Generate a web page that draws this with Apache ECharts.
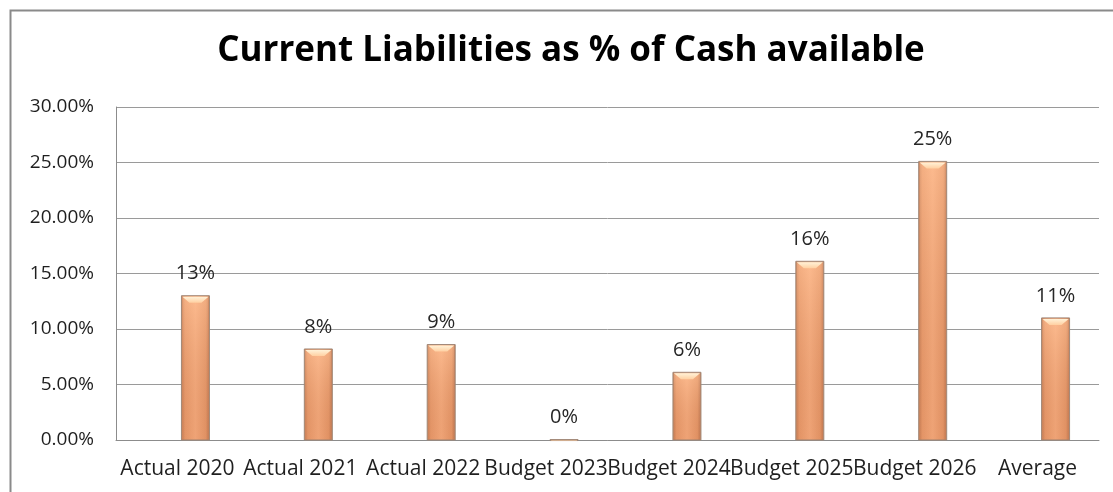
<!DOCTYPE html>
<html>
<head>
<meta charset="utf-8">
<style>
  html, body { margin: 0; padding: 0; background: #ffffff; }
  #chart { width: 1113px; height: 492px; }
</style>
<script src="https://cdn.jsdelivr.net/npm/echarts@6/dist/echarts.min.js"></script>
</head>
<body>
<div id="chart"></div>
<script>
// Current liabilities as a share of cash available, per year
const categories = ['Actual 2020', 'Actual 2021', 'Actual 2022', 'Budget 2023', 'Budget 2024', 'Budget 2025', 'Budget 2026', 'Average'];
const ratios = [0.130, 0.082, 0.086, 0.0004, 0.061, 0.161, 0.251, 0.110];
const yTicks = [0, 0.05, 0.10, 0.15, 0.20, 0.25, 0.30];

const FONT = '"Open Sans", Lato, sans-serif';
const BAR_W = 28;
const BAR_SHIFT = 18; // columns sit a little right of the category centre

function pctLabel(v) { return Math.round(v * 100) + '%'; }
function tickLabel(v) { return (v * 100).toFixed(2) + '%'; }

function renderColumn(params, api) {
  const idx = api.value(0);
  const val = api.value(1);
  const top = api.coord([idx, val]);
  const base = api.coord([idx, 0]);
  const x = top[0] - BAR_W / 2 + BAR_SHIFT;
  const y = top[1];
  const h = Math.max(base[1] - top[1], 1);
  const bev = Math.min(7, h / 3);
  const children = [
    {
      type: 'rect',
      shape: { x: x, y: y, width: BAR_W, height: h },
      style: {
        fill: new echarts.graphic.LinearGradient(0, 0, 1, 0, [
          { offset: 0, color: '#c27b55' },
          { offset: 0.14, color: '#ee9f70' },
          { offset: 0.5, color: '#fbb082' },
          { offset: 0.86, color: '#eb9c6d' },
          { offset: 1, color: '#ba7450' }
        ]),
        stroke: '#a08878',
        lineWidth: 1
      }
    },
    {
      type: 'rect',
      shape: { x: x + 1, y: y + 1, width: BAR_W - 2, height: h - 1 },
      style: {
        fill: new echarts.graphic.LinearGradient(0, 0, 0, 1, [
          { offset: 0, color: 'rgba(255,205,165,0.35)' },
          { offset: 1, color: 'rgba(150,70,30,0.12)' }
        ])
      }
    },
    {
      type: 'polygon',
      shape: { points: [[x + 1, y + 1], [x + BAR_W - 1, y + 1], [x + BAR_W - 1 - bev, y + bev], [x + 1 + bev, y + bev]] },
      style: {
        fill: new echarts.graphic.LinearGradient(0, 0, 0, 1, [
          { offset: 0, color: '#fff2d8' },
          { offset: 1, color: '#ffd0a2' }
        ])
      }
    },
    {
      type: 'text',
      style: {
        text: pctLabel(val),
        x: top[0] + BAR_SHIFT,
        y: y - 12,
        align: 'center',
        verticalAlign: 'bottom',
        fontFamily: FONT,
        fontSize: 20,
        fill: '#262626'
      }
    }
  ];
  return { type: 'group', children: children };
}

const chart = echarts.init(document.getElementById('chart'), null, { renderer: 'canvas' });
chart.setOption({
  animation: false,
  backgroundColor: '#ffffff',
  textStyle: { fontFamily: FONT },
  title: {
    text: 'Current Liabilities as % of Cash available',
    left: 566,
    top: 29,
    textAlign: 'center',
    textStyle: { fontFamily: FONT, fontSize: 35, fontWeight: 'bold', color: '#000000' }
  },
  graphic: [{
    type: 'rect',
    left: 8,
    top: 8,
    shape: { x: 0, y: 0, width: 1200, height: 600 },
    style: { fill: 'none', stroke: '#8a8a8a', lineWidth: 2 },
    silent: true
  }],
  grid: { left: 116, right: 14, top: 107, bottom: 52 },
  xAxis: {
    type: 'category',
    data: categories,
    axisTick: { show: false },
    axisLine: { lineStyle: { color: '#8c8c8c', width: 1 } },
    axisLabel: { interval: 0, margin: 19, fontFamily: FONT, fontSize: 21, color: '#1f1f1f' }
  },
  yAxis: {
    type: 'value',
    min: 0,
    max: 0.30,
    interval: 0.05,
    axisLine: { show: true, lineStyle: { color: '#8c8c8c', width: 1 } },
    axisTick: { show: false },
    splitLine: { lineStyle: { color: '#9a9a9a', width: 1 } },
    axisLabel: {
      margin: 22,
      fontFamily: FONT,
      fontSize: 19,
      color: '#1f1f1f',
      customValues: yTicks,
      formatter: tickLabel
    }
  },
  series: [{
    type: 'custom',
    renderItem: renderColumn,
    data: ratios.map(function (v, i) { return [i, v]; }),
    clip: false
  }]
});
</script>
</body>
</html>
